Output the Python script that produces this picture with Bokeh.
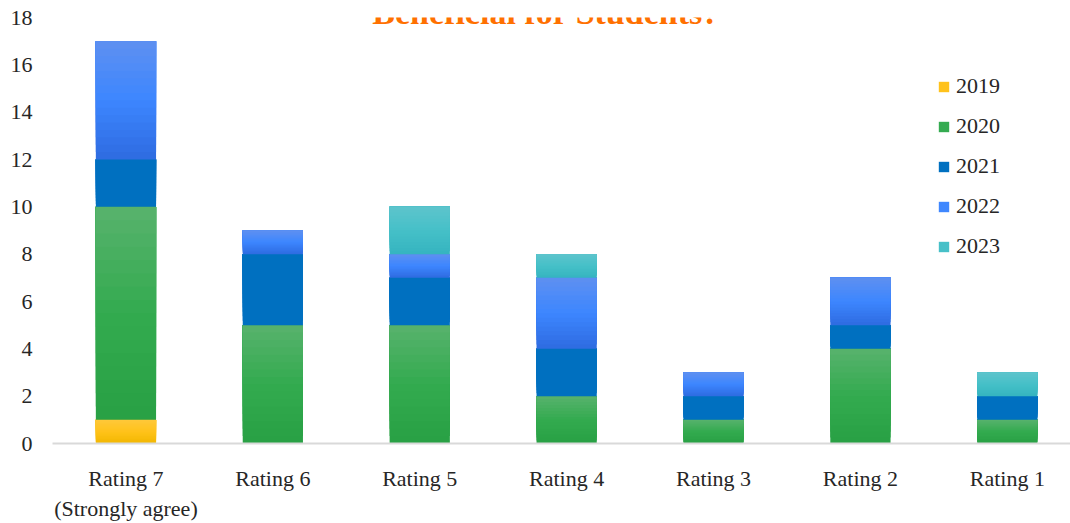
import numpy as np
from bokeh.plotting import figure
from bokeh.models import Label, FixedTicker, Legend
from bokeh.embed import file_html
from bokeh.resources import INLINE

categories = ["Rating 7\n(Strongly agree)", "Rating 6", "Rating 5", "Rating 4", "Rating 3", "Rating 2", "Rating 1"]
years = ["2019", "2020", "2021", "2022", "2023"]
y2019 = [1, 0, 0, 0, 0, 0, 0]
y2020 = [9, 5, 5, 2, 1, 4, 1]
y2021 = [2, 3, 2, 2, 1, 1, 1]
y2022 = [5, 1, 1, 3, 1, 2, 0]
y2023 = [0, 0, 2, 1, 0, 0, 1]
series = [y2019, y2020, y2021, y2022, y2023]
# gradient stops (top, middle, bottom) for each year
gradients = [
    ("#FFC83A", "#FFC21A", "#F2B700"),
    ("#58B26D", "#33AB4F", "#28A044"),
    ("#0070C0", "#0070C0", "#0070C0"),
    ("#5E90F0", "#3D86FF", "#2E6BE0"),
    ("#5EC4CC", "#45C0C8", "#35B4BF"),
]
title_text = "Beneficial for Students?"


def hex2rgb(h):
    return np.array([int(h[i:i + 2], 16) for i in (1, 3, 5)], dtype=float)


def grad_color(stops, t):
    # t=0 top, t=1 bottom
    top, mid, bot = (hex2rgb(s) for s in stops)
    if t < 0.5:
        c = top + (mid - top) * (t / 0.5)
    else:
        c = mid + (bot - mid) * ((t - 0.5) / 0.5)
    return "#%02x%02x%02x" % tuple(int(round(v)) for v in c)


xs = list(range(len(categories)))

p = figure(width=1070, height=523, output_backend="svg", toolbar_location=None,
           x_range=(-0.5, 6.43), y_range=(0, 18),
           min_border_left=52, min_border_right=0, min_border_top=17, min_border_bottom=70)
p.outline_line_color = None
p.xgrid.visible = False
p.ygrid.visible = False

N = 16
base = np.zeros(len(categories))
legend_renderers = []
for vals, stops in zip(series, gradients):
    v = np.array(vals, dtype=float)
    seg_top = base + v
    rep = None
    for j in range(N):
        t = 1 - (j + 0.5) / N
        col = grad_color(stops, t)
        bottom = base + v * (j / N)
        r = p.vbar(x=xs, top=seg_top, bottom=bottom, width=0.41, fill_color=col, line_color=None)
        if j == N // 2:
            rep = r
    legend_renderers.append(rep)
    base = seg_top

font = "Liberation Serif"
p.yaxis.ticker = FixedTicker(ticks=list(range(0, 19, 2)))
p.yaxis.axis_line_color = None
p.yaxis.major_tick_line_color = None
p.yaxis.minor_tick_line_color = None
p.yaxis.major_label_text_font = font
p.yaxis.major_label_text_font_size = "22px"
p.yaxis.major_label_text_color = "#262626"
p.yaxis.major_label_standoff = 14

p.xaxis.ticker = FixedTicker(ticks=xs)
p.xaxis.major_label_overrides = {i: c for i, c in enumerate(categories)}
p.xaxis.axis_line_color = "#D9D9D9"
p.xaxis.axis_line_width = 2
p.xaxis.major_tick_line_color = None
p.xaxis.minor_tick_line_color = None
p.xaxis.major_label_text_font = font
p.xaxis.major_label_text_font_size = "22px"
p.xaxis.major_label_text_color = "#262626"
p.xaxis.major_label_standoff = 16

legend = Legend(items=[(y, [r]) for y, r in zip(years, legend_renderers)], location=(885, 184))
legend.background_fill_alpha = 0
legend.border_line_color = None
legend.glyph_width = 13
legend.glyph_height = 13
legend.label_height = 23
legend.spacing = 14
legend.padding = 0
legend.margin = 0
legend.label_standoff = 6
legend.label_text_font = font
legend.label_text_font_size = "22px"
legend.label_text_color = "#262626"
p.add_layout(legend)

p.add_layout(Label(x=2.86, y=18.2, text=title_text, text_align="center", text_baseline="alphabetic",
                   text_font=font, text_font_size="34px", text_font_style="bold", text_color="#FF7000"))

open("out.html", "w").write(file_html(p, INLINE))
